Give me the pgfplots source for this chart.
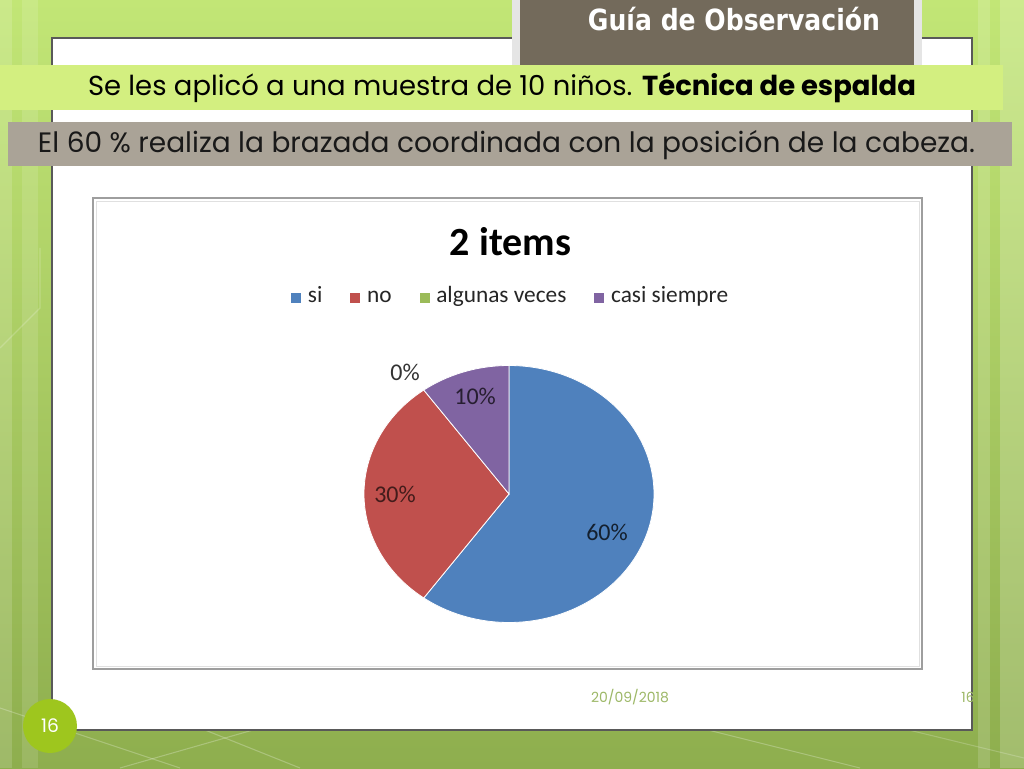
\documentclass[border=0pt]{standalone}
\usepackage{pgfplots}
\pgfplotsset{compat=1.18}
\usepackage{pgfplotstable}
\usepackage{graphicx}
\usepackage{fontspec}
\setmainfont{Carlito}
\newfontfamily\gothic{Poppins}
\newfontfamily\tah{DejaVu Sans}

\definecolor{bgtop}{HTML}{C2E676}
\definecolor{bgmid}{HTML}{A2CA5E}
\definecolor{bgbot}{HTML}{8EAE4E}
\definecolor{titlebrown}{HTML}{736A5B}
\definecolor{bannergreen}{HTML}{D3EF80}
\definecolor{greybox}{HTML}{AAA397}
\definecolor{piesi}{HTML}{4F81BD}
\definecolor{pieno}{HTML}{C0504D}
\definecolor{piealg}{HTML}{9BBB59}
\definecolor{piecasi}{HTML}{8064A2}
\definecolor{circlegreen}{HTML}{9EC61E}
\definecolor{datecol}{HTML}{9DB867}

\pgfplotstableread{
category value
si 60
no 30
algunas 0
casi 10
}\piedata

\pgfplotstablegetelem{0}{value}\of\piedata \let\vsi\pgfplotsretval
\pgfplotstablegetelem{1}{value}\of\piedata \let\vno\pgfplotsretval
\pgfplotstablegetelem{2}{value}\of\piedata \let\valg\pgfplotsretval
\pgfplotstablegetelem{3}{value}\of\piedata \let\vcasi\pgfplotsretval
\pgfmathsetmacro{\aA}{90}
\pgfmathsetmacro{\aB}{\aA-3.6*\vsi}
\pgfmathsetmacro{\aC}{\aB-3.6*\vno}
\pgfmathsetmacro{\aD}{\aC-3.6*\valg}
\pgfmathsetmacro{\aE}{\aD-3.6*\vcasi}

\begin{document}
\begin{tikzpicture}[x=0.75pt,y=0.75pt]
\useasboundingbox (0,0) rectangle (1024,768);
% background
\shade[top color=bgtop, middle color=bgmid, bottom color=bgbot] (0,0) rectangle (1024,768);
\fill[white, opacity=0.15] (0,0) rectangle (12,768);
\fill[white, opacity=0.12] (22,0) rectangle (38,768);
\fill[white, opacity=0.15] (978,0) rectangle (990,768);
\fill[white, opacity=0.18] (1000,0) rectangle (1024,768);
\draw[white, opacity=0.25, line width=0.8pt] (0,60) -- (180,0);
\draw[white, opacity=0.25, line width=0.8pt] (120,0) -- (260,40);
\draw[white, opacity=0.25, line width=0.8pt] (300,0) -- (200,40);
\draw[white, opacity=0.25, line width=0.8pt] (700,40) -- (860,0);
\draw[white, opacity=0.2, line width=0.8pt] (880,45) -- (1024,10);
\draw[white, opacity=0.2, line width=0.8pt] (0,420) -- (40,460) -- (40,520);
% white content box
\fill[white] (52,38) rectangle (972,730);
\draw[black!65, line width=0.8pt] (52,38) rectangle (972,730);
% title box
\fill[black!10] (512,703) rectangle (922,768);
\fill[titlebrown] (520,703) rectangle (914,768);
\node[text=white, inner sep=0pt, anchor=base] at (734,737) {\resizebox{219pt}{17.5pt}{\tah\bfseries Guía de Observación}};
% banner
\fill[bannergreen] (0,658) rectangle (1003,703);
\node[text=black, inner sep=0pt] at (502,680) {\resizebox{621pt}{!}{\gothic\fontsize{18}{22}\selectfont Se les aplicó a una muestra de 10 niños. \textbf{Técnica de espalda}}};
% grey box
\fill[greybox] (8,602) rectangle (1012,646);
\node[text=black!90, inner sep=0pt] at (506.5,623) {\resizebox{702.75pt}{!}{\gothic\fontsize{18}{22}\selectfont El 60 \% realiza la brazada coordinada con la posición de la cabeza.}};
% chart frame
\fill[white] (93,99) rectangle (922,570);
\draw[black!38, line width=1.4pt] (93,99) rectangle (922,570);
\draw[black!12, line width=0.6pt] (96,102) rectangle (919,567);
% footer
\node[text=datecol, inner sep=0pt] at (630,71) {\resizebox{58.5pt}{!}{\gothic\fontsize{10}{12}\selectfont 20/09/2018}};
\begin{scope}
\clip (900,50) rectangle (972,90);
\node[text=datecol, anchor=west, inner sep=0pt, font=\gothic\fontsize{10.5}{12}\selectfont] at (961,71) {16};
\end{scope}
\fill[circlegreen] (50,42) circle (27);
\node[text=white, font=\gothic\fontsize{14}{16}\selectfont] at (50,42) {16};
% pie chart
\begin{axis}[
  at={(381.75pt,205.5pt)}, anchor=center,
  scale only axis, width=217.5pt, height=192.75pt,
  xmin=-1, xmax=1, ymin=-1, ymax=1,
  hide axis, clip=false,
  title={2 items},
  title style={at={(0.505,1.45)}, anchor=center, font=\bfseries\fontsize{30}{34}\selectfont},
  legend columns=4,
  legend style={at={(0.507,1.26)}, anchor=center, draw=none, fill=none,
    font=\fontsize{17.5}{20}\selectfont, text=black!85,
    nodes={text height=0.75em, text depth=0.25em},
    /tikz/every even column/.append style={column sep=19pt},
    /tikz/every odd column/.append style={column sep=3pt}},
  legend image code/.code={\fill[#1, draw=none] (0pt,-3pt) rectangle (7.5pt,4.5pt);},
]
\addplot[fill=piesi, draw=white, line width=0.6pt, domain=\aB:\aA, samples=150] ({cos(x)},{sin(x)}) -- (axis cs:0,0) -- cycle;
\addlegendentry{si}
\addplot[fill=pieno, draw=white, line width=0.6pt, domain=\aC:\aB, samples=80] ({cos(x)},{sin(x)}) -- (axis cs:0,0) -- cycle;
\addlegendentry{no}
\addlegendimage{fill=piealg}
\addlegendentry{algunas veces}
\addplot[fill=piecasi, draw=white, line width=0.6pt, domain=\aE:\aD, samples=40] ({cos(x)},{sin(x)}) -- (axis cs:0,0) -- cycle;
\addlegendentry{casi siempre}
\node[text=black!75!piesi, font=\fontsize{18}{20}\selectfont] at (axis cs:0.676,-0.30) {60\%};
\node[text=black!65!pieno, font=\fontsize{18}{20}\selectfont] at (axis cs:-0.786,0) {30\%};
\node[text=black!70!piecasi, font=\fontsize{18}{20}\selectfont] at (axis cs:-0.234,0.758) {10\%};
\node[text=black!80, font=\fontsize{18}{20}\selectfont] at (axis cs:-0.717,0.945) {0\%};
\end{axis}
\end{tikzpicture}
\end{document}
